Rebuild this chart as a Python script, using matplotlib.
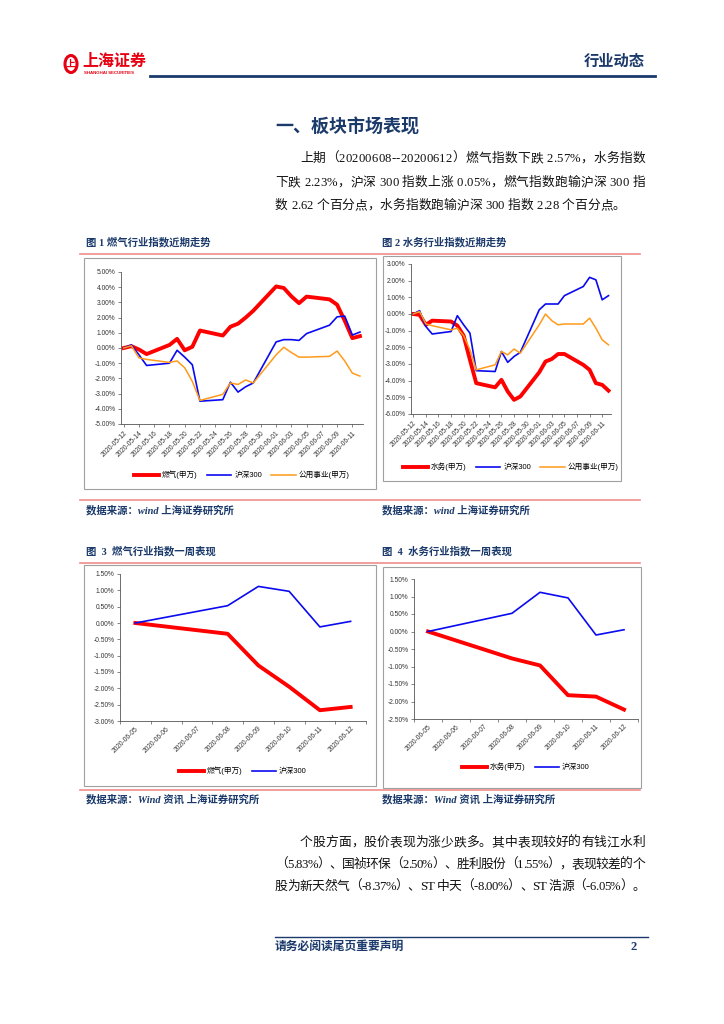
import numpy as np
import pandas as pd
import matplotlib
matplotlib.use("Agg")
import matplotlib.pyplot as plt
from matplotlib.lines import Line2D
from matplotlib.patches import Rectangle, Circle
from matplotlib.ticker import FuncFormatter

W, H = 724, 1024

# ============================================================
#  Data (cumulative change, %)
# ============================================================
# fig 1 / fig 2: trading days
trade_dates = ["2020-05-12", "2020-05-13", "2020-05-14", "2020-05-15", "2020-05-18",
               "2020-05-19", "2020-05-20", "2020-05-21", "2020-05-22", "2020-05-25",
               "2020-05-26", "2020-05-27", "2020-05-28", "2020-05-29", "2020-06-01",
               "2020-06-02", "2020-06-03", "2020-06-04", "2020-06-05", "2020-06-08",
               "2020-06-09", "2020-06-10", "2020-06-11", "2020-06-12"]
month_ticks = ["2020-05-12", "2020-05-14", "2020-05-16", "2020-05-18", "2020-05-20",
               "2020-05-22", "2020-05-24", "2020-05-26", "2020-05-28", "2020-05-30",
               "2020-06-01", "2020-06-03", "2020-06-05", "2020-06-07", "2020-06-09",
               "2020-06-11"]

gas_1 = [0.0, 0.12, -0.1, -0.4, 0.2, 0.6, -0.15, 0.08, 1.15, 0.82, 1.4, 1.6,
         2.0, 2.45, 4.05, 3.95, 3.4, 2.95, 3.38, 3.2, 2.85, 1.8, 0.65, 0.78]
hs300_1 = [0.0, 0.2, -0.45, -1.15, -1.0, -0.15, -0.6, -1.1, -3.5, -3.4, -2.25, -2.9,
           -2.55, -2.3, 0.4, 0.55, 0.55, 0.5, 0.95, 1.5, 2.05, 2.1, 0.85, 1.05]
util_1 = [0.0, 0.15, -0.65, -0.75, -0.95, -0.85, -1.3, -2.2, -3.45, -3.05, -2.3, -2.4,
          -2.1, -2.3, -0.45, 0.05, -0.3, -0.6, -0.6, -0.55, -0.2, -0.85, -1.65, -1.85]

water_2 = [0.0, -0.05, -0.65, -0.4, -0.45, -0.7, -1.3, -2.75, -4.15, -4.4, -3.95, -4.65,
           -5.15, -4.95, -3.5, -2.85, -2.7, -2.4, -2.4, -3.05, -3.35, -4.15, -4.25, -4.6]
hs300_2 = [0.0, 0.2, -0.75, -1.2, -1.05, -0.1, -0.65, -1.15, -3.4, -3.45, -2.25, -2.9,
           -2.55, -2.3, 0.25, 0.6, 0.6, 0.6, 1.1, 1.65, 2.2, 2.05, 0.85, 1.1]
util_2 = [0.0, 0.15, -0.6, -0.7, -0.95, -0.85, -1.3, -2.15, -3.35, -3.05, -2.25, -2.45,
          -2.1, -2.35, -0.65, 0.0, -0.4, -0.65, -0.6, -0.6, -0.25, -0.85, -1.55, -1.85]

# fig 3 / fig 4: last week
week_dates = ["2020-06-05", "2020-06-08", "2020-06-09", "2020-06-10", "2020-06-11", "2020-06-12"]
week_ticks = ["2020-06-05", "2020-06-06", "2020-06-07", "2020-06-08",
              "2020-06-09", "2020-06-10", "2020-06-11", "2020-06-12"]
gas_3 = [0.0, -0.33, -1.3, -1.95, -2.67, -2.57]
hs300_3 = [0.0, 0.53, 1.12, 0.97, -0.12, 0.05]
water_4 = [0.0, -0.77, -0.97, -1.82, -1.86, -2.23]
hs300_4 = [0.0, 0.52, 1.12, 0.96, -0.1, 0.05]

# body text
para1 = ["上期（20200608--20200612）燃气指数下跌 2.57%，水务指数",
         "下跌 2.23%，沪深 300 指数上涨 0.05%，燃气指数跑输沪深 300 指",
         "数 2.62 个百分点，水务指数跑输沪深 300 指数 2.28 个百分点。"]
para2 = ["个股方面，股价表现为涨少跌多。其中表现较好的有钱江水利",
         "（5.83%）、国祯环保（2.50%）、胜利股份（1.55%），表现较差的个",
         "股为新天然气（-8.37%）、ST 中天（-8.00%）、ST 浩源（-6.05%）。"]

# ============================================================
#  Styles
# ============================================================
NAVY = "#1B3A6B"
PINK = "#F08C8C"
RED, BLUE, ORANGE = "#FF0000", "#0A0AF0", "#FF9A1A"
BODY = ["Liberation Serif", "Noto Sans CJK SC"]
SANS = ["Liberation Sans", "Noto Sans CJK SC"]

fig = plt.figure(figsize=(W / 100, H / 100), dpi=100)
renderer = fig.canvas.get_renderer()


def fx(x):
    return x / W


def fy(y):
    return 1 - y / H


def hline(x0, x1, y, color, lw):
    fig.add_artist(Line2D([fx(x0), fx(x1)], [fy(y), fy(y)], transform=fig.transFigure,
                          color=color, lw=lw))


def frame(x0, y0, x1, y1):
    fig.add_artist(Rectangle((fx(x0), fy(y1)), fx(x1 - x0), (y1 - y0) / H,
                             transform=fig.transFigure, fill=False,
                             edgecolor="#A0A0A0", lw=0.8))


def text_width(s, **kw):
    t = fig.text(0, 0, s, **kw)
    w = t.get_window_extent(renderer).width
    t.remove()
    return w


def justified(line, x0, x1, y, **kw):
    # place chars one by one so the line fills x0..x1 (like a justified paragraph)
    ref = text_width("x", **kw)
    natural = text_width(line + "x", **kw) - ref
    n = len(line)
    extra = 0.0 if x1 is None else (x1 - x0 - natural) / max(n - 1, 1)
    for k, ch in enumerate(line):
        if ch == " ":
            continue
        left = 0.0 if k == 0 else text_width(line[:k] + "x", **kw) - ref
        fig.text(fx(x0 + left + k * extra), fy(y), ch, ha="left", va="center", **kw)


def add_ax(x0, y0, x1, y1):
    return fig.add_axes([fx(x0), fy(y1), fx(x1 - x0), (y1 - y0) / H])


def style_ax(ax, ylim, ystep):
    ax.set_ylim(*ylim)
    ax.set_yticks(np.arange(ylim[0], ylim[1] + 1e-9, ystep))
    ax.yaxis.set_major_formatter(FuncFormatter(lambda v, p: f"{v:.2f}%"))
    for s in ["top", "right"]:
        ax.spines[s].set_visible(False)
    for s in ["left", "bottom"]:
        ax.spines[s].set_color("#555555")
        ax.spines[s].set_linewidth(0.6)
    ax.tick_params(axis="both", direction="out", length=2.5, width=0.5,
                   color="#555555", labelsize=4.8, labelcolor="#333333", pad=1.5)
    for lab in ax.get_yticklabels():
        lab.set_family(SANS)


def legend(ax, y_px, ncol):
    pos = ax.get_position()
    leg = ax.legend(loc="center", ncol=ncol, frameon=False,
                    prop={"family": SANS, "size": 5.5}, handlelength=3.2,
                    columnspacing=1.2, handletextpad=0.4)
    leg.set_bbox_to_anchor((pos.x0 + pos.width / 2, fy(y_px)), transform=fig.transFigure)
    return leg


# ============================================================
#  Header / text
# ============================================================
fig.add_artist(Circle((fx(71), fy(64)), 8.5 / H, transform=fig.transFigure,
                      fill=False, edgecolor="#E60012", lw=2.2))
fig.text(fx(71), fy(64), "上", color="#E60012", fontsize=7, fontweight="bold",
         family=BODY, ha="center", va="center")
fig.text(fx(82), fy(62), "上海证券", color="#E60012", fontsize=11.5, fontweight="bold",
         family=BODY, ha="left", va="center")
fig.text(fx(84), fy(73.5), "SHANGHAI SECURITIES", color="#E60012", fontsize=3.2,
         fontweight="bold", family=SANS, ha="left", va="center")
fig.text(fx(645), fy(62), "行业动态", color=NAVY, fontsize=11, fontweight="bold",
         family=BODY, ha="right", va="center")
hline(150, 655, 76, NAVY, 2.0)

fig.text(fx(275), fy(128), "一、板块市场表现", color=NAVY, fontsize=13, fontweight="bold",
         family=BODY, ha="left", va="center")

body_kw = dict(fontsize=9.2, family=BODY, color="#111111")
justified(para1[0], 300, 645, 159, **body_kw)
justified(para1[1], 275, 645, 183, **body_kw)
justified(para1[2], 275, None, 206, **body_kw)
justified(para2[0], 300, 645, 843, **body_kw)
justified(para2[1], 275, 645, 865, **body_kw)
justified(para2[2], 275, 645, 887, **body_kw)

captions = [(86, 242, "图 1 燃气行业指数近期走势"), (382, 242, "图 2 水务行业指数近期走势"),
            (86, 551, "图  3  燃气行业指数一周表现"), (382, 551, "图  4  水务行业指数一周表现")]
for x, y, t in captions:
    fig.text(fx(x), fy(y), t, color=NAVY, fontsize=7.5, fontweight="bold", family=BODY,
             ha="left", va="center")
sources = [(86, 510, "数据来源：wind 上海证券研究所"), (382, 510, "数据来源：wind 上海证券研究所"),
           (86, 799, "数据来源：Wind 资讯 上海证券研究所"), (382, 799, "数据来源：Wind 资讯 上海证券研究所")]
for x, y, t in sources:
    fig.text(fx(x), fy(y), t, color=NAVY, fontsize=7.5, fontweight="bold", style="italic",
             family=BODY, ha="left", va="center")

for y in [254, 500, 563, 790]:
    hline(80, 640, y, PINK, 1.2)

hline(275, 648, 937, NAVY, 1.0)
fig.text(fx(275), fy(947), "请务必阅读尾页重要声明", color=NAVY, fontsize=8.5,
         fontweight="bold", family=BODY, ha="left", va="center")
fig.text(fx(634), fy(947), "2", color=NAVY, fontsize=9, fontweight="bold",
         family=BODY, ha="center", va="center")

# ============================================================
#  Frames
# ============================================================
frame(84, 258, 376, 489)
frame(383, 256, 621, 481)
frame(84, 565, 376, 786)
frame(383, 567, 641, 788)

# ============================================================
#  Fig 1 & 2 : recent trend
# ============================================================
base = pd.Timestamp(trade_dates[0])
xd = (pd.to_datetime(trade_dates) - base).days.values
xt = (pd.to_datetime(month_ticks) - base).days.values


def trend_chart(rect, series, labels, ylim, legend_y):
    ax = add_ax(*rect)
    colors = [RED, BLUE, ORANGE]
    widths = [2.8, 1.2, 1.1]
    for vals, lab, c, lw in zip(series, labels, colors, widths):
        ax.plot(xd, vals, color=c, lw=lw, label=lab, solid_joinstyle="round")
    ax.set_xlim(-0.36, 31.4)
    style_ax(ax, ylim, 1.0)
    ax.set_xticks(xt)
    ax.set_xticklabels(month_ticks, rotation=45, ha="right", rotation_mode="anchor",
                       family=SANS)
    legend(ax, legend_y, 3)
    return ax


trend_chart((121, 272, 363, 424), [gas_1, hs300_1, util_1],
            ["燃气(申万)", "沪深300", "公用事业(申万)"], (-5, 5), 475)
trend_chart((411, 264, 611, 414), [water_2, hs300_2, util_2],
            ["水务(申万)", "沪深300", "公用事业(申万)"], (-6, 3), 467)

# ============================================================
#  Fig 3 & 4 : last week
# ============================================================
wbase = pd.Timestamp(week_ticks[0])
xw = (pd.to_datetime(week_dates) - wbase).days.values


def week_chart(rect, series, labels, ylim, legend_y):
    ax = add_ax(*rect)
    for vals, lab, c, lw in zip(series, labels, [RED, BLUE], [2.8, 1.2]):
        ax.plot(xw, vals, color=c, lw=lw, label=lab, solid_joinstyle="round")
    ax.set_xlim(-0.5, len(week_ticks) - 0.5)
    style_ax(ax, ylim, 0.5)
    ax.set_xticks(np.arange(len(week_ticks)))
    ax.set_xticklabels(week_ticks, rotation=45, ha="right", rotation_mode="anchor",
                       family=SANS)
    ax.tick_params(axis="x", length=0, pad=3)
    ax.set_xticks(np.arange(len(week_ticks) + 1) - 0.5, minor=True)
    ax.tick_params(axis="x", which="minor", direction="out", length=2.5, width=0.5,
                   color="#555555")
    legend(ax, legend_y, 2)
    return ax


week_chart((120, 574, 366, 721), [gas_3, hs300_3], ["燃气(申万)", "沪深300"], (-3, 1.5), 771)
week_chart((414, 579, 638, 719), [water_4, hs300_4], ["水务(申万)", "沪深300"], (-2.5, 1.5), 767)

fig.savefig("out.png", dpi=100)
